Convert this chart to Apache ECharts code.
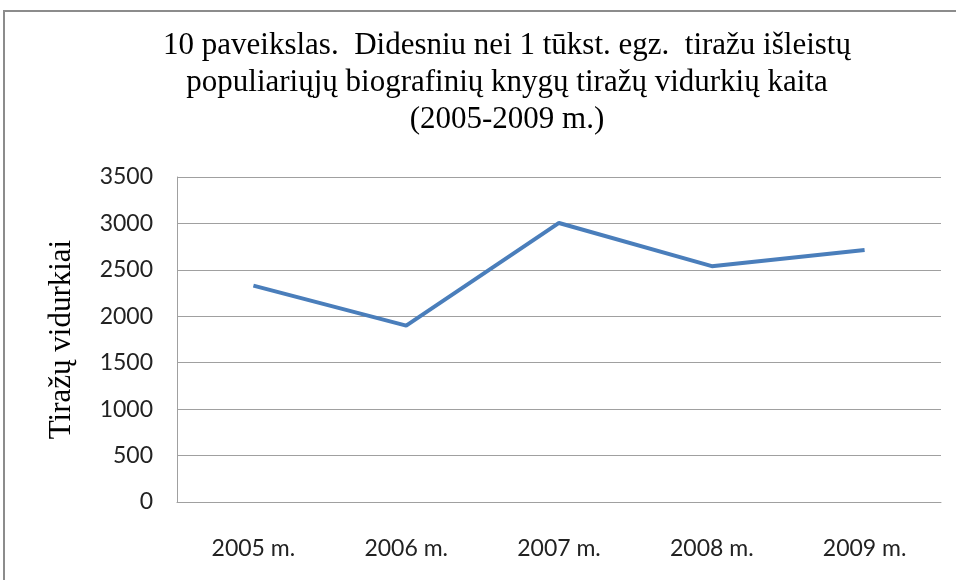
<!DOCTYPE html>
<html>
<head>
<meta charset="utf-8">
<script src="https://cdn.jsdelivr.net/npm/echarts@6/dist/echarts.min.js"></script>
<style>
html,body{margin:0;padding:0;background:#fff;}
#chart{width:956px;height:580px;}
</style>
</head>
<body>
<div id="chart"></div>
<script>
var years = ["2005 m.","2006 m.","2007 m.","2008 m.","2009 m."];
var vidurkiai = [2330,1900,3005,2540,2715];
var yMin = 0, yMax = 3500, yStep = 500;

var chart = echarts.init(document.getElementById("chart"));
var option = {
	backgroundColor:"#fff",
	animation:false,
	title:{
		text:"10 paveikslas.  Didesniu nei 1 tūkst. egz.  tiražu išleistų\npopuliariųjų biografinių knygų tiražų vidurkių kaita\n(2005-2009 m.)",
		left:502,
		top:22,
		textAlign:"center",
		textStyle:{
			fontFamily:"Liberation Serif",
			fontSize:31,
			fontWeight:"normal",
			color:"#000",
			lineHeight:37
		}
	},
	graphic:[{
		type:"rect",
		shape:{x:4,y:11,width:1100,height:1000},
		style:{fill:null,stroke:"#8c8c8c",lineWidth:2},
		silent:true
	}],
	grid:{left:177,right:15,top:177,bottom:78},
	xAxis:{
		type:"category",
		data:years,
		boundaryGap:true,
		axisLine:{lineStyle:{color:"#a0a0a0",width:1}},
		axisTick:{show:false},
		axisLabel:{fontFamily:"Lato",fontSize:23,color:"#222",margin:35}
	},
	yAxis:{
		type:"value",
		min:yMin,max:yMax,interval:yStep,
		name:"Tiražų vidurkiai",
		nameLocation:"middle",
		nameGap:100,
		nameTextStyle:{fontFamily:"Liberation Serif",fontSize:31,color:"#000"},
		axisLine:{show:true,lineStyle:{color:"#a0a0a0",width:1}},
		axisTick:{show:false},
		splitLine:{lineStyle:{color:"#a0a0a0",width:1}},
		axisLabel:{
			fontFamily:"Lato",fontSize:23,color:"#222",margin:24,
			formatter:function(v){return String(v);}
		}
	},
	series:[{
		type:"line",
		data:vidurkiai,
		symbol:"none",
		lineStyle:{color:"#4a7ebb",width:4}
	}]
};
chart.setOption(option);
</script>
</body>
</html>
